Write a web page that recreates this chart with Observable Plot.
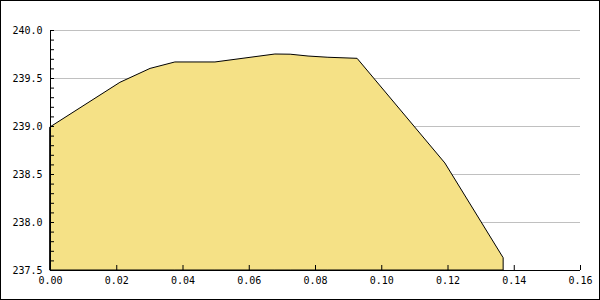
<!DOCTYPE html>
<html>
<head>
<meta charset="utf-8">
<script src="https://cdn.jsdelivr.net/npm/d3@7"></script>
<script src="https://cdn.jsdelivr.net/npm/@observablehq/plot@0.6"></script>
<style>
  html, body { margin: 0; padding: 0; background: #fff; }
  #chart svg { display: block; outline: 1px solid #000; outline-offset: -1px; }
</style>
</head>
<body>
<div id="chart"></div>
<script>
// Series values
const xValues = [0, 0.0211, 0.0302, 0.0377, 0.0498, 0.0679, 0.0725, 0.0779, 0.0839, 0.0927, 0.1192, 0.1368];
const yValues = [238.99, 239.455, 239.60, 239.667, 239.667, 239.75, 239.748, 239.729, 239.716, 239.705, 238.615, 237.628];

// Axis ticks
const xTicks = [0, 0.02, 0.04, 0.06, 0.08, 0.10, 0.12, 0.14, 0.16];
const yMajorTicks = [237.5, 238.0, 238.5, 239.0, 239.5, 240.0];
const yMinorTicks = d3.range(0, 26).map(i => 237.5 + i * 0.1);
const yGrid = [238.0, 238.5, 239.0, 239.5, 240.0];

const data = xValues.map((x, i) => ({x, y: yValues[i]}));

const chart = Plot.plot({
  width: 600,
  height: 300,
  marginLeft: 50,
  marginRight: 20,
  marginTop: 30,
  marginBottom: 30,
  style: {fontFamily: "DejaVu Sans Mono", fontSize: "10px", color: "#000", background: "#fff"},
  x: {domain: [0, 0.16]},
  y: {domain: [237.5, 240]},
  marks: [
    Plot.gridY(yGrid, {stroke: "#c0c0c0", strokeOpacity: 1}),
    Plot.areaY(data, {x: "x", y1: 237.5, y2: "y", fill: "#f5e186", stroke: "#000", strokeWidth: 1}),
    Plot.axisY({ticks: yMinorTicks, tickSize: 4, dx: 4, text: null, label: null, strokeOpacity: 1}),
    Plot.axisY({ticks: yMajorTicks, tickSize: 0, tickPadding: 8, tickFormat: d3.format(".1f"), label: null, fill: "#000"}),
    Plot.axisX({ticks: xTicks, tickSize: 5, dy: -5, text: null, label: null, strokeOpacity: 1}),
    Plot.axisX({ticks: xTicks, tickSize: 0, tickPadding: 6, tickFormat: d3.format(".2f"), label: null, fill: "#000"}),
    Plot.ruleX([0], {stroke: "#000"}),
    Plot.ruleY([237.5], {stroke: "#000"})
  ]
});
document.getElementById("chart").appendChild(chart);
</script>
</body>
</html>
